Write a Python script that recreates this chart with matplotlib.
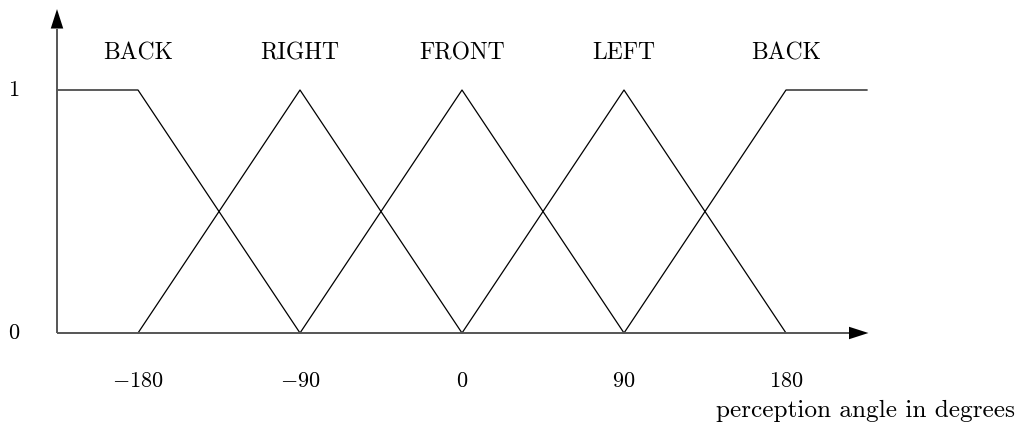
import matplotlib
matplotlib.use("Agg")
import matplotlib.pyplot as plt

plt.rcParams['mathtext.fontset'] = 'cm'
plt.rcParams['font.family'] = ['cmr10', 'DejaVu Sans']

# Data
labels = ["BACK", "RIGHT", "FRONT", "LEFT", "BACK"]
centers = [-180, -90, 0, 90, 180]
tick_values = [-180, -90, 0, 90, 180]
tick_labels = [r"$-180$", r"$-90$", r"$0$", r"$90$", r"$180$"]
x_left, x_right = -225, 225
back_left_x = [-225, -180, -90]
back_left_y = [1, 1, 0]
back_right_x = [90, 180, 225]
back_right_y = [0, 1, 1]
tri_centers = [-90, 0, 90]
half_width = 90
xlabel = "perception angle in degrees"

fig = plt.figure(figsize=(10.19, 4.28), dpi=100)
ax = fig.add_axes([0, 0, 1, 1])
px_per_deg = 1.8
ax.set_xlim(-462 / px_per_deg, (1019 - 462) / px_per_deg)
ax.set_ylim(-95 / 243, 333 / 243)
ax.axis('off')

lw = 0.9
ax.plot(back_left_x, back_left_y, color='black', lw=lw)
ax.plot(back_right_x, back_right_y, color='black', lw=lw)
for c in tri_centers:
    ax.plot([c - half_width, c, c + half_width], [0, 1, 0], color='black', lw=lw)

axcol = '#555555'
head = '-|>,head_length=1.4,head_width=0.45'
ax.annotate('', xy=(x_left, 1.333), xytext=(x_left, 0),
            arrowprops=dict(arrowstyle=head, color='black', lw=0, shrinkA=0, shrinkB=0))
ax.plot([x_left, x_left], [0, 1.25], color=axcol, lw=1.4, solid_capstyle='butt')
ax.annotate('', xy=(x_right + 0.8, 0), xytext=(x_left, 0),
            arrowprops=dict(arrowstyle=head, color='black', lw=0, shrinkA=0, shrinkB=0))
ax.plot([x_left, x_right - 7], [0, 0], color=axcol, lw=1.4, solid_capstyle='butt')

for lab, c in zip(labels, centers):
    ax.text(c, 1.152, lab, ha='center', va='center', fontsize=17)
for v, t in zip(tick_values, tick_labels):
    ax.text(v, -0.2, t, ha='center', va='center', fontsize=16)
ax.text(-462 / px_per_deg + 14 / px_per_deg, 1, r"$1$", ha='center', va='center', fontsize=16)
ax.text(-462 / px_per_deg + 14 / px_per_deg, 0, r"$0$", ha='center', va='center', fontsize=16)
ax.text((1015 - 462) / px_per_deg, -0.32, xlabel, ha='right', va='center', fontsize=18.2)

fig.savefig("out.png", dpi=100)
